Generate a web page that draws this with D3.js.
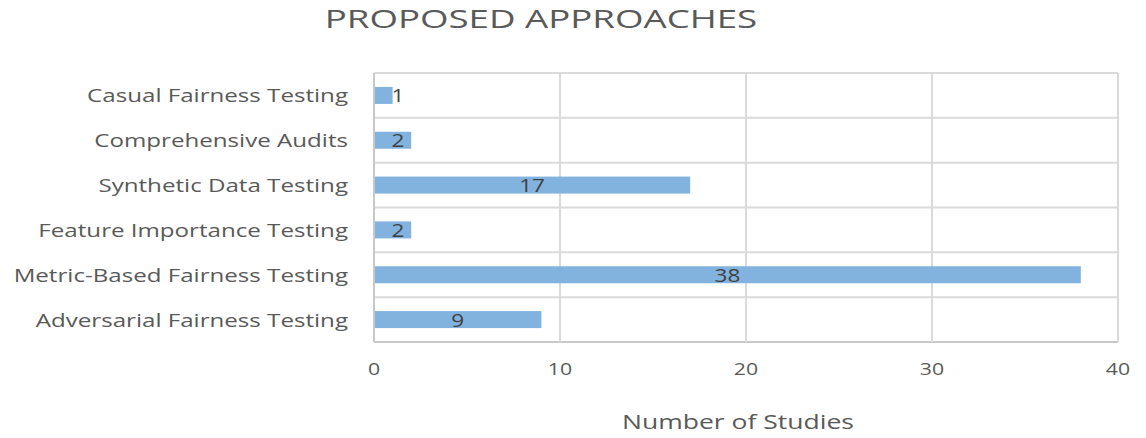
<!DOCTYPE html>
<html><head><meta charset="utf-8">
<script src="https://cdn.jsdelivr.net/npm/d3@7"></script>
<style>body{margin:0;background:#fff}svg{display:block}</style>
</head><body>
<svg id="c" width="1146" height="438"></svg>
<script>
const categories = ["Casual Fairness Testing","Comprehensive Audits","Synthetic Data Testing ","Feature Importance Testing","Metric-Based Fairness Testing","Adversarial Fairness Testing"];
const values = [1,2,17,2,38,9];
const xTicks = [0,10,20,30,40];
const title = "PROPOSED APPROACHES";
const xTitle = "Number of Studies";

const svg = d3.select("#c");
const font = "'Open Sans', sans-serif";
const txtColor = "#595959";
const m = {l:374, r:1118, t:73, b:342};
const x = d3.scaleLinear().domain([0,40]).range([m.l, m.r]);
const y = d3.scaleBand().domain(categories).range([m.t, m.b]).paddingInner(0).paddingOuter(0);

function stext(g, tx, ty, s, anchor, size, k, color){
  return g.append("text").attr("transform",`translate(${tx},${ty}) scale(${k},1)`)
    .attr("text-anchor",anchor).attr("font-family",font).attr("font-size",size)
    .attr("fill",color||txtColor).text(s);
}

// gridlines horizontal (category boundaries)
const bounds = categories.map(c=>y(c)).concat([m.b]);
svg.append("g").selectAll("line").data(bounds).join("line")
  .attr("x1",m.l).attr("x2",m.r).attr("y1",d=>d).attr("y2",d=>d)
  .attr("stroke",d=>d===m.b?"#c8c8c8":"#dadada").attr("stroke-width",2);
// vertical gridlines
svg.append("g").selectAll("line").data(xTicks.slice(1)).join("line")
  .attr("x1",d=>x(d)).attr("x2",d=>x(d)).attr("y1",m.t).attr("y2",m.b)
  .attr("stroke","#dadada").attr("stroke-width",2);
// left axis line
svg.append("line").attr("x1",m.l).attr("x2",m.l).attr("y1",m.t).attr("y2",m.b)
  .attr("stroke","#c8c8c8").attr("stroke-width",2);

// bars
const bh = 17;
svg.append("g").selectAll("rect").data(values).join("rect")
  .attr("x",x(0)+1).attr("y",(d,i)=>y(categories[i])+y.bandwidth()/2-bh/2)
  .attr("width",d=>x(d)-x(0)-1).attr("height",bh).attr("fill","#82b3df");

// bar labels
const lg = svg.append("g");
values.forEach((v,i)=>{
  const cx = Math.max((x(v)+x(0))/2, x(0)+24);
  stext(lg, cx, y(categories[i])+y.bandwidth()/2+7, String(v), "middle", 18, 1.25, "#404040");
});

// category labels
const cg = svg.append("g");
categories.forEach(c=>{
  stext(cg, 348, y(c)+y.bandwidth()/2+7, c, "end", 19, 1.27);
});

// x tick labels
const tg = svg.append("g");
xTicks.forEach(t=>{ stext(tg, x(t), 375, String(t), "middle", 17, 1.25); });

// axis title
stext(svg, 738, 429, xTitle, "middle", 19.5, 1.36);
// chart title
stext(svg, 541, 28, title, "middle", 26, 1.41);
</script>
</body></html>
